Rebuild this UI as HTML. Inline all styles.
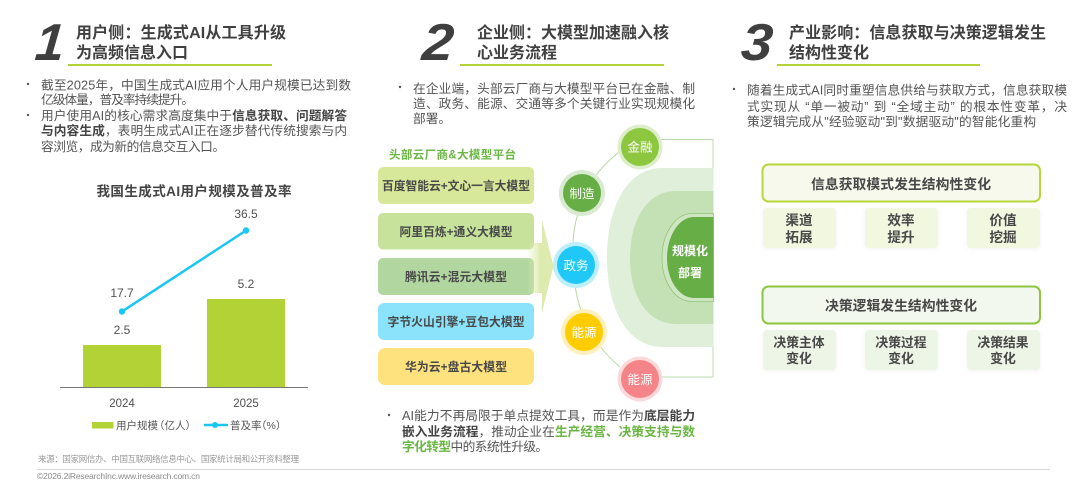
<!DOCTYPE html>
<html lang="zh"><head><meta charset="utf-8"><style>
html,body{margin:0;padding:0;background:#fff;overflow:hidden}
svg{display:block;filter:blur(.3px)}
text{font-family:"Liberation Sans","Noto Sans CJK SC",sans-serif;fill:#555;font-size:12.7px}
.t{font-size:16px;font-weight:700;fill:#404040}
.n{font-size:52px;font-weight:700;font-style:italic;fill:#3f3f3f}
.b{font-weight:700;fill:#444}
.g{font-weight:700;fill:#6bb744}
.m{font-size:12px;fill:#505050;text-anchor:middle}
.c{font-weight:700;fill:#484848;text-anchor:middle}
.w{fill:#fff;font-size:12.5px;text-anchor:middle}
.l{font-size:10.5px;fill:#555}
.s{filter:drop-shadow(0 1px 2px rgba(0,0,0,.05))}
</style></head><body>
<svg width="1080" height="486" viewBox="0 0 1080 486" xmlns="http://www.w3.org/2000/svg">
<defs><linearGradient id="a" x1="0" x2="1" y1="0" y2="0"><stop offset="0" stop-color="#dbe9a8" stop-opacity=".1"/><stop offset=".5" stop-color="#dbe9a8"/><stop offset="1" stop-color="#dbe9a8"/></linearGradient></defs>
<rect width="1080" height="486" fill="#fff"/>

<!-- Column 1 -->
<text class="n" transform="translate(34,60) skewX(-5)">1</text>
<text class="t" x="76" y="38" textLength="210">用户侧：生成式AI从工具升级</text>
<text class="t" x="76" y="58" textLength="112">为高频信息入口</text>
<rect x="68" y="64" width="204" height="2" fill="#b2d235"/>
<circle cx="28" cy="84" r="1.2" fill="#555"/>
<text x="41" y="89.5" textLength="310">截至2025年，中国生成式AI应用个人用户规模已达到数</text>
<text x="41" y="104" textLength="153">亿级体量，普及率持续提升。</text>
<circle cx="28" cy="115" r="1.2" fill="#555"/>
<text x="41" y="120" textLength="306">用户使用AI的核心需求高度集中于<tspan class="b">信息获取、问题解答</tspan></text>
<text x="41" y="135" textLength="306"><tspan class="b">与内容生成</tspan>，表明生成式AI正在逐步替代传统搜索与内</text>
<text x="41" y="151" textLength="184">容浏览，成为新的信息交互入口。</text>

<text x="194" y="196" text-anchor="middle" textLength="195" style="font-size:13.5px;font-weight:700;fill:#444">我国生成式AI用户规模及普及率</text>
<rect x="83" y="345" width="78" height="42" fill="#b2d235"/>
<rect x="207" y="299" width="78" height="88" fill="#b2d235"/>
<rect x="60" y="387" width="248" height="1" fill="#777"/>
<line x1="122" y1="311.5" x2="246" y2="230.5" stroke="#1ac6f4" stroke-width="2.5"/>
<circle cx="122" cy="311.5" r="3.2" fill="#1ac6f4"/>
<circle cx="246" cy="230.5" r="3.2" fill="#1ac6f4"/>
<text class="m" x="122" y="334">2.5</text>
<text class="m" x="246" y="288">5.2</text>
<text class="m" x="122" y="297">17.7</text>
<text class="m" x="246" y="218">36.5</text>
<text class="m" x="122" y="407" style="font-size:11.5px">2024</text>
<text class="m" x="246" y="407" style="font-size:11.5px">2025</text>
<rect x="92" y="422" width="21.5" height="6.5" fill="#b2d235"/>
<text class="l" x="116" y="429">用户规模</text>
<text class="l" x="154" y="429">（亿人）</text>
<line x1="204" y1="425" x2="228" y2="425" stroke="#1ac6f4" stroke-width="2.5"/>
<circle cx="215" cy="425" r="3" fill="#1ac6f4"/>
<text class="l" x="230" y="429">普及率</text>
<text class="l" x="256" y="429">（%）</text>
<text x="38" y="462" textLength="261" style="font-size:8.5px;fill:#999">来源：国家网信办、中国互联网络信息中心、国家统计局和公开资料整理</text>
<rect x="37" y="469" width="1013" height="1" fill="#dcdcdc"/>
<text x="37" y="479" textLength="163" style="font-size:8.5px;fill:#8a8a8a">©2026.2iResearchInc.www.iresearch.com.cn</text>

<!-- Column 2 -->
<text class="n" transform="translate(421,60) skewX(-5) scale(1.08,1)">2</text>
<text class="t" x="477" y="38" textLength="192">企业侧：大模型加速融入核</text>
<text class="t" x="477" y="58" textLength="80">心业务流程</text>
<rect x="460" y="64" width="204" height="2" fill="#b2d235"/>
<circle cx="400" cy="87" r="1.2" fill="#555"/>
<text x="413" y="93" textLength="282">在企业端，头部云厂商与大模型平台已在金融、制</text>
<text x="413" y="108" textLength="282">造、政务、能源、交通等多个关键行业实现规模化</text>
<text x="413" y="123" textLength="38">部署。</text>

<text x="389" y="158.5" textLength="127" style="font-size:11.5px;font-weight:700;fill:#6bb744">头部云厂商&amp;大模型平台</text>
<rect x="378" y="167" width="156" height="37" rx="5" fill="#d8e89a"/>
<rect x="378" y="213" width="156" height="36.5" rx="5" fill="#c6e29b"/>
<rect x="378" y="258" width="156" height="37" rx="5" fill="#b1d6a0"/>
<rect x="378" y="303" width="156" height="37" rx="6" fill="#8ae2fb"/>
<rect x="378" y="348" width="156" height="37" rx="7" fill="#fee27e"/>
<text class="c" x="456" y="190" textLength="148" style="font-size:11.8px">百度智能云+文心一言大模型</text>
<text class="c" x="456" y="236" textLength="113" style="font-size:11.8px">阿里百炼+通义大模型</text>
<text class="c" x="456" y="281" textLength="102" style="font-size:11.8px">腾讯云+混元大模型</text>
<text class="c" x="456" y="326" textLength="137" style="font-size:11.8px">字节火山引擎+豆包大模型</text>
<text class="c" x="456" y="371" textLength="102" style="font-size:11.8px">华为云+盘古大模型</text>
<path d="M528 243H542V220L553.5 266L542 313V293H528Z" fill="url(#a)" opacity=".92"/>

<path d="M619 152Q603 165 595 177M578 213Q573 230 573 245M575 285Q577 300 582 313M599 345Q608 357 620 367" fill="none" stroke="#b7d9a3" stroke-width="1"/>
<path d="M655 139.5H713V377H655" fill="none" stroke="#b9dcae" stroke-width="1"/>
<path d="M713.5 168H662C628 168 607 205 607 258C607 310 628 347 662 347H713.5Z" fill="#e0efda"/>
<path d="M713.5 191H676C647 191 630 220 630 258C630 296 647 324 676 324H713.5Z" fill="#c4e1b5"/>
<path d="M713.5 213.5H692C675 213.5 662 234 662 258C662 282 675 301.5 692 301.5H713.5Z" fill="#cfe6c2" stroke="#92c57c" stroke-width=".8"/>
<path d="M713.5 217H694C679 217 667 236 667 258C667 280 679 298 694 298H713.5Z" fill="#66ae45"/>
<text x="690" y="255" text-anchor="middle" textLength="36" style="fill:#fff;font-size:12px;font-weight:700">规模化</text>
<text x="690" y="277" text-anchor="middle" textLength="24" style="fill:#fff;font-size:12px;font-weight:700">部署</text>

<circle cx="640" cy="147" r="22.5" fill="#deeecb"/><circle cx="640" cy="147" r="19" fill="#8dc63f"/>
<text class="w" x="640" y="151.5">金融</text>
<circle cx="582" cy="193" r="23" fill="#d9ead0"/><circle cx="582" cy="193" r="19" fill="#66ae45"/>
<text class="w" x="582" y="198">制造</text>
<circle cx="576" cy="265" r="23" fill="#bdeefc"/><circle cx="576" cy="265" r="19" fill="#1fc8f7"/>
<text class="w" x="576" y="270">政务</text>
<circle cx="584" cy="332" r="23" fill="#fff0bd"/><circle cx="584" cy="332" r="19" fill="#ffcc00"/>
<text class="w" x="584" y="337">能源</text>
<circle cx="640" cy="379" r="22.5" fill="#fbd9da"/><circle cx="640" cy="379" r="19" fill="#f58488"/>
<text class="w" x="640" y="384">能源</text>

<circle cx="389" cy="415" r="1.2" fill="#555"/>
<text x="402" y="420" textLength="293">AI能力不再局限于单点提效工具，而是作为<tspan class="b">底层能力</tspan></text>
<text x="402" y="436" textLength="293"><tspan class="b">嵌入业务流程</tspan>，推动企业在<tspan class="g">生产经营、决策支持与数</tspan></text>
<text x="402" y="451" textLength="146"><tspan class="g">字化转型</tspan>中的系统性升级。</text>

<!-- Column 3 -->
<text class="n" transform="translate(740,60) skewX(-5) scale(1.08,1)">3</text>
<text class="t" x="789" y="38" textLength="257">产业影响：信息获取与决策逻辑发生</text>
<text class="t" x="789" y="58" textLength="80">结构性变化</text>
<rect x="777" y="64" width="203" height="2" fill="#b2d235"/>
<circle cx="734" cy="89" r="1.2" fill="#555"/>
<text x="747" y="94.5" textLength="320">随着生成式AI同时重塑信息供给与获取方式，信息获取模</text>
<text x="747" y="111" textLength="320">式实现从 “单一被动” 到 “全域主动” 的根本性变革，决</text>
<text x="747" y="126" textLength="289">策逻辑完成从"经验驱动"到"数据驱动"的智能化重构</text>

<rect x="762.5" y="164.5" width="277.5" height="37" rx="6" fill="#f6f9eb" stroke="#b6d73b" stroke-width="2"/>
<text class="c" x="901" y="189" textLength="180" style="font-size:13.8px">信息获取模式发生结构性变化</text>
<rect class="s" x="763" y="208" width="73" height="40" rx="4" fill="#f2f7e0"/>
<rect class="s" x="865" y="208" width="73" height="40" rx="4" fill="#f2f7e0"/>
<rect class="s" x="967" y="208" width="73" height="40" rx="4" fill="#f2f7e0"/>
<text class="c" x="799" y="225" style="font-size:13.6px">渠道</text><text class="c" x="799" y="242" style="font-size:13.6px">拓展</text>
<text class="c" x="901" y="225" style="font-size:13.6px">效率</text><text class="c" x="901" y="242" style="font-size:13.6px">提升</text>
<text class="c" x="1003" y="225" style="font-size:13.6px">价值</text><text class="c" x="1003" y="242" style="font-size:13.6px">挖掘</text>

<rect x="762.5" y="286.5" width="277.5" height="37" rx="6" fill="#f3f8ee" stroke="#8cc63f" stroke-width="2"/>
<text class="c" x="901" y="310.5" textLength="152" style="font-size:13.8px">决策逻辑发生结构性变化</text>
<rect class="s" x="763" y="330" width="73" height="40" rx="4" fill="#edf5e6"/>
<rect class="s" x="865" y="330" width="73" height="40" rx="4" fill="#edf5e6"/>
<rect class="s" x="967" y="330" width="73" height="40" rx="4" fill="#edf5e6"/>
<text class="c" x="799" y="347" style="font-size:12.8px">决策主体</text><text class="c" x="799" y="363" style="font-size:12.8px">变化</text>
<text class="c" x="901" y="347" style="font-size:12.8px">决策过程</text><text class="c" x="901" y="363" style="font-size:12.8px">变化</text>
<text class="c" x="1003" y="347" style="font-size:12.8px">决策结果</text><text class="c" x="1003" y="363" style="font-size:12.8px">变化</text>
</svg>
</body></html>
